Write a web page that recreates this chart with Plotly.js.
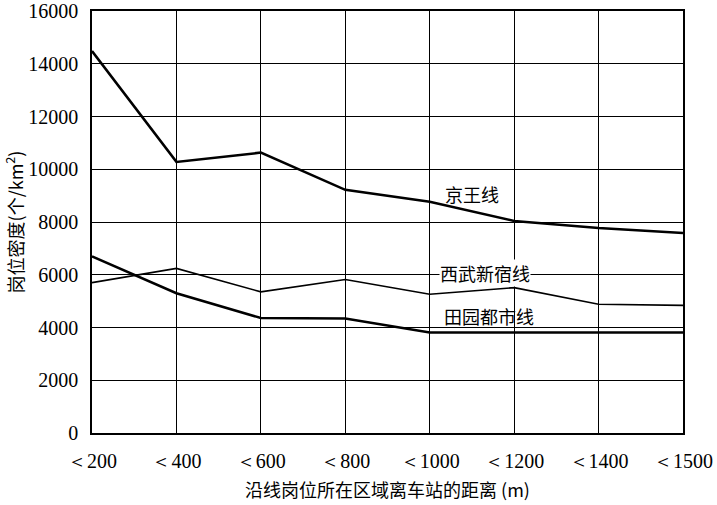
<!DOCTYPE html>
<html>
<head>
<meta charset="utf-8">
<script src="https://cdn.plot.ly/plotly-3.0.1.min.js"></script>
<style>
  html, body { margin: 0; padding: 0; background: #fff; }
  #plot { width: 717px; height: 505px; }
</style>
</head>
<body>
<div id="plot"></div>
<script>
// distance bands (m)
const bands = ['＜200', '＜400', '＜600', '＜800', '＜1000', '＜1200', '＜1400', '＜1500'];

// job density (jobs / km2)
const keio = [14480, 10280, 10630, 9220, 8770, 8040, 7770, 7580];
const seibu = [5700, 6240, 5350, 5820, 5260, 5510, 4880, 4840];
const denen = [6700, 5300, 4360, 4340, 3810, 3810, 3810, 3810];

const yTicks = [0, 2000, 4000, 6000, 8000, 10000, 12000, 14000, 16000];

const lineNames = ['京王线', '西武新宿线', '田园都市线'];
const labelPos = [[4.5, 9050], [4.65, 6060], [4.7, 4450]];

const serif = 'Times New Roman, Liberation Serif, serif';
const cjk = 'Noto Sans CJK SC';

const makeLine = (y, width) => ({
  x: bands, y,
  type: 'scatter',
  mode: 'lines',
  hoverinfo: 'none',
  line: { color: '#000', width }
});

const traces = [
  makeLine(seibu, 1.6),
  makeLine(denen, 2.5),
  makeLine(keio, 2.5)
];

const annotations = lineNames.map((t, i) => ({
  x: labelPos[i][0], y: labelPos[i][1],
  xref: 'x', yref: 'y',
  text: t,
  showarrow: false,
  bgcolor: i === 1 ? '#fff' : 'rgba(0,0,0,0)',
  borderpad: 0,
  font: { family: cjk, size: 18, color: '#000' }
}));

const layout = {
  width: 717, height: 505,
  margin: { l: 92, r: 34, t: 11, b: 72 },
  paper_bgcolor: '#fff',
  plot_bgcolor: '#fff',
  showlegend: false,
  xaxis: {
    type: 'category',
    range: [0, 7],
    showgrid: true, gridcolor: '#000', gridwidth: 1,
    showline: true, linecolor: '#000', linewidth: 1.8, mirror: true,
    zeroline: false,
    ticks: '',
    ticklabelstandoff: 9,
    tickfont: { family: serif, size: 20, color: '#000' },
    title: {
      text: '沿线岗位所在区域离车站的距离 (m)',
      font: { family: cjk, size: 18, color: '#000' },
      standoff: 14
    }
  },
  yaxis: {
    range: [0, 16000],
    tickmode: 'array',
    tickvals: yTicks,
    ticktext: yTicks.map(String),
    ticklabeloverflow: 'allow',
    showgrid: true, gridcolor: '#000', gridwidth: 1,
    showline: true, linecolor: '#000', linewidth: 1.8, mirror: true,
    zeroline: false,
    ticks: '',
    ticklabelstandoff: 8,
    tickfont: { family: serif, size: 20, color: '#000' },
    title: {
      text: '岗位密度(个/km<sup>2</sup>)',
      font: { family: cjk, size: 18, color: '#000' },
      standoff: 6
    }
  },
  annotations
};

Plotly.newPlot('plot', traces, layout, { staticPlot: true });
</script>
</body>
</html>
